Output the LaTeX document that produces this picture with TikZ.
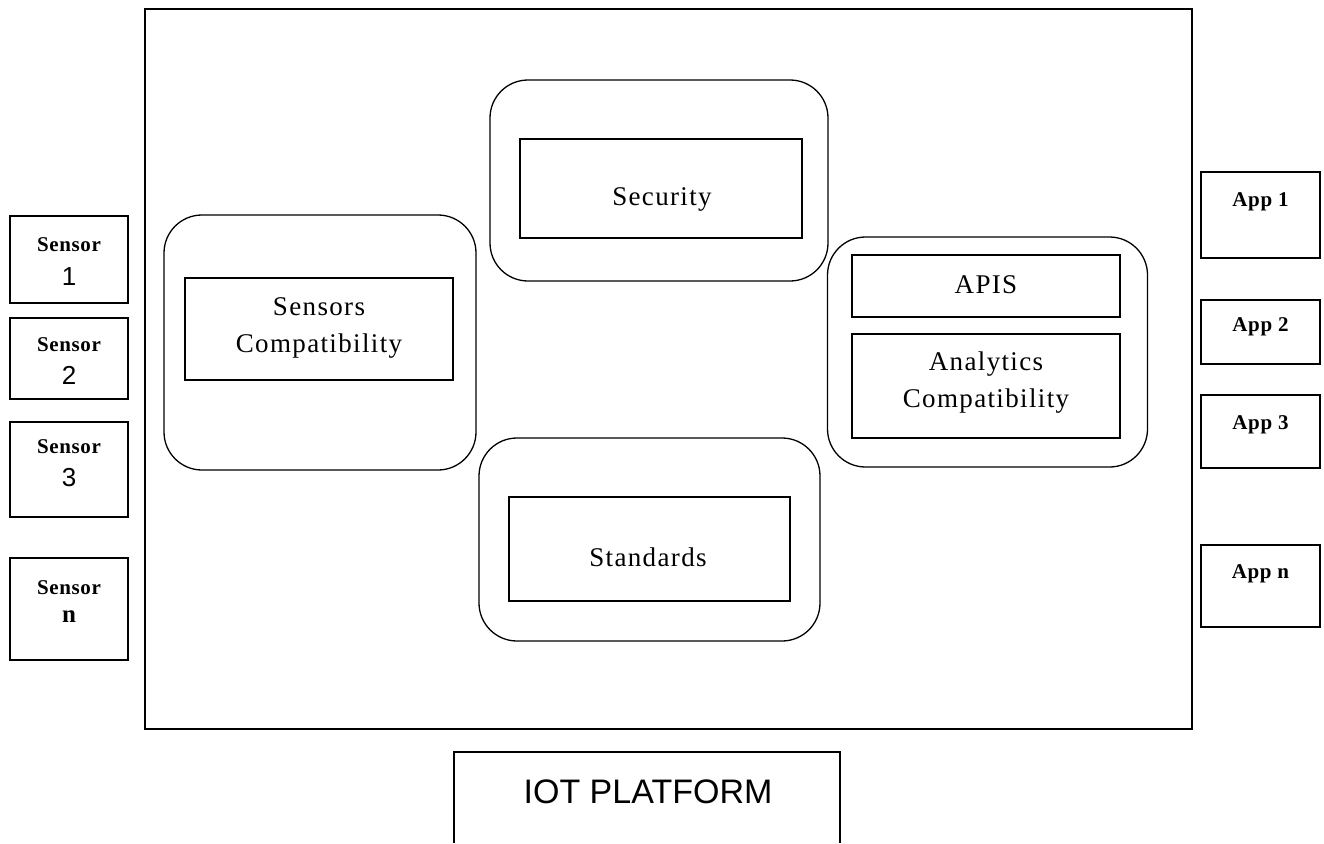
\documentclass[tikz,border=0pt]{standalone}
\usepackage{fontspec}
\setmainfont{Liberation Serif}
\newfontfamily\arialf{Liberation Sans}
\newfontfamily\spaced[LetterSpace=5]{Liberation Serif}
\newfontfamily\spacedbf[LetterSpace=3]{Liberation Serif Bold}
\begin{document}
\begin{tikzpicture}[x=1pt,y=-1pt,
  box/.style={draw,line width=1.3pt,inner sep=0pt,align=center},
  outerbox/.style={draw,line width=1.3pt,rounded corners=38pt,inner sep=0pt},
  lbl/.style={font=\spaced\fontsize{27}{37}\selectfont,align=center},
  small/.style={font=\spacedbf\fontsize{21}{24}\selectfont},
  num/.style={font=\arialf\fontsize{26}{28}\selectfont}]
\useasboundingbox (0,0) rectangle (1324,843);
% main frame
\node[box,line width=1.5pt,minimum width=1047pt,minimum height=720pt] (frame) at (668.5,369) {};
% Security
\node[outerbox,minimum width=338pt,minimum height=201pt] (secO) at (659,180.5) {};
\node[box,minimum width=282pt,minimum height=99pt] (secI) at (661,188.5) {};
\node[lbl] (secT) at (662,199) {Security};
% Sensors compatibility
\node[outerbox,minimum width=312pt,minimum height=255pt] (senO) at (320,342.5) {};
\node[box,minimum width=268pt,minimum height=102pt] (senI) at (319,329) {};
\node[lbl] (senT) at (319,328) {Sensors\\Compatibility};
% Right
\node[outerbox,minimum width=320pt,minimum height=230pt] (apiO) at (987.5,352) {};
\node[box,minimum width=268pt,minimum height=62pt] (apiI) at (986,286) {};
\node[lbl] (apiT) at (986,285) {APIS};
\node[box,minimum width=268pt,minimum height=104pt] (anaI) at (986,386) {};
\node[lbl] (anaT) at (986,383) {Analytics\\Compatibility};
% Standards
\node[outerbox,minimum width=341pt,minimum height=203pt] (stdO) at (649.5,539.5) {};
\node[box,minimum width=281pt,minimum height=104pt] (stdI) at (649.5,549) {};
\node[lbl] (stdT) at (648,557) {Standards};
% Sensors
\node[box,minimum width=118pt,minimum height=87pt] (s1) at (69,259.5) {};
\node[small] (s1a) at (69,245) {Sensor};
\node[num] (s1b) at (69,277) {1};
\node[box,minimum width=118pt,minimum height=81pt] (s2) at (69,358.5) {};
\node[small] (s2a) at (69,345) {Sensor};
\node[num] (s2b) at (69,375) {2};
\node[box,minimum width=118pt,minimum height=95pt] (s3) at (69,469.5) {};
\node[small] (s3a) at (69,447) {Sensor};
\node[num] (s3b) at (69,478) {3};
\node[box,minimum width=118pt,minimum height=102pt] (sn) at (69,609) {};
\node[small] (sna) at (69,588) {Sensor};
\node[small,font=\spacedbf\fontsize{25}{28}\selectfont] (snb) at (69,617) {n};
% Apps
\node[box,minimum width=119pt,minimum height=86pt] (a1) at (1260.5,215) {};
\node[small] (a1t) at (1260.5,202) {App 1};
\node[box,minimum width=119pt,minimum height=64pt] (a2) at (1260.5,332) {};
\node[small] (a2t) at (1260.5,327) {App 2};
\node[box,minimum width=119pt,minimum height=73pt] (a3) at (1260.5,431.5) {};
\node[small] (a3t) at (1260.5,425) {App 3};
\node[box,minimum width=119pt,minimum height=82pt] (an) at (1260.5,586) {};
\node[small] (ant) at (1260.5,574) {App n};
% IOT platform
\coordinate (iotBL) at (454,843);
\coordinate (iotBR) at (840,843);
\draw[line width=1.3pt] (iotBL) |- (840,752) -- (iotBR);
\node[font=\arialf\fontsize{34}{36}\selectfont] (iot) at (648,792) {IOT PLATFORM};
\end{tikzpicture}
\end{document}
